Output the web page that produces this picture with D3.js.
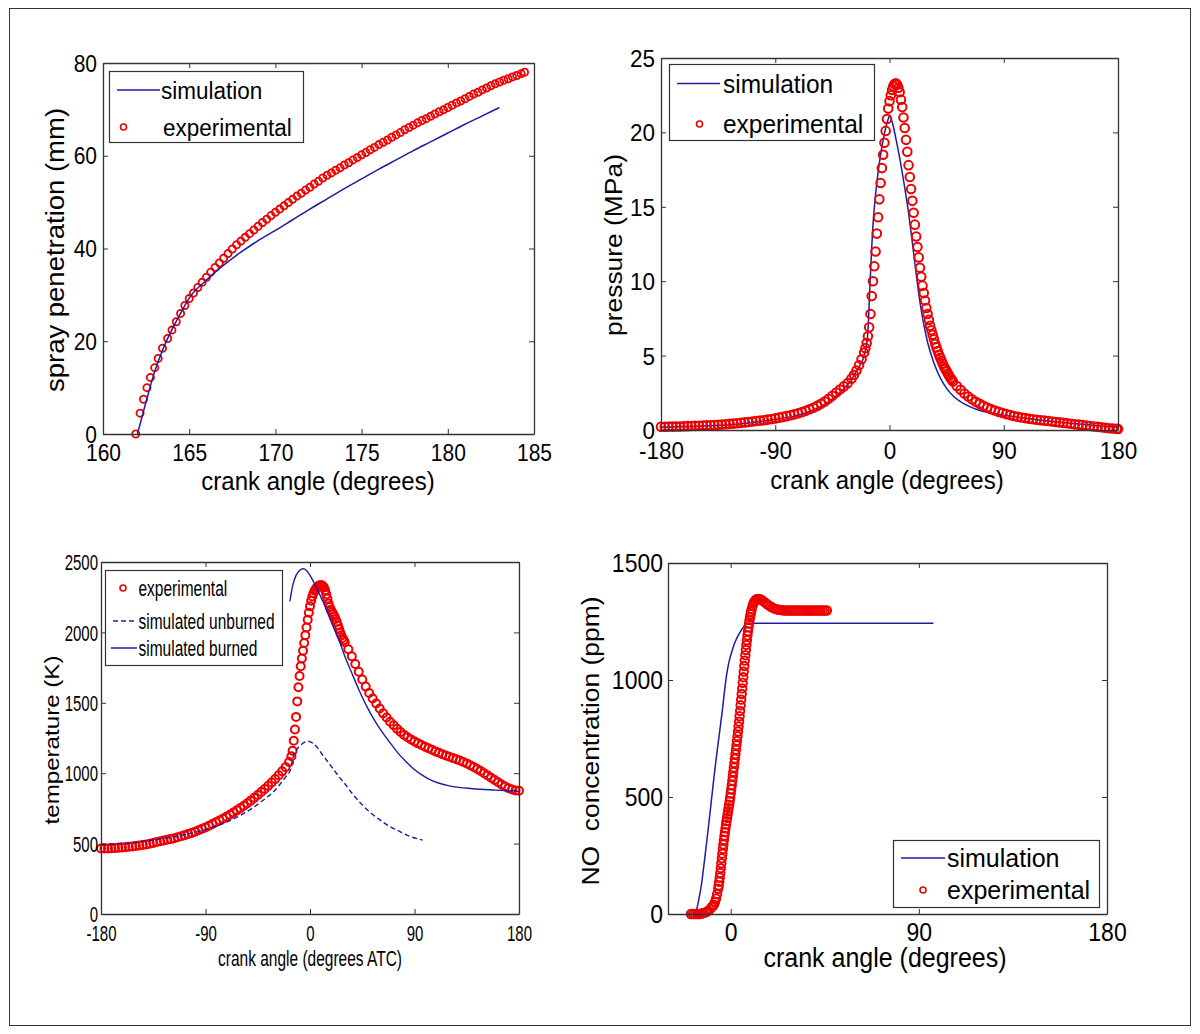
<!DOCTYPE html>
<html>
<head>
<meta charset="utf-8">
<script src="https://cdn.jsdelivr.net/npm/d3@7"></script>
<style>
  html, body { margin: 0; padding: 0; background: #fff; }
  svg { display: block; }
</style>
</head>
<body>
<svg id="fig" width="1200" height="1034"></svg>
<script>
// ---------------- DATA ----------------
// Panel 1: spray penetration (mm) vs crank angle (deg)
const sprayXTicks = [160, 165, 170, 175, 180, 185];
const sprayYTicks = [0, 20, 40, 60, 80];
const spraySim = [[162,0],[162.5,7],[163,13.5],[163.5,18.5],[164,22.5],[164.5,26.0],[165,29.3],[166,33.2],[167,36.4],[168,39.2],[169,41.7],[170,43.9],[171,46.2],[172,48.5],[173,50.7],[174,52.9],[175,55.0],[176,57.1],[177,59.1],[178,61.1],[179,63.0],[180,64.9],[181,66.8],[182,68.6],[183,70.4]];
const sprayExp = [[161.9,0],[162.15,4.5],[162.35,7.5],[162.55,10],[162.75,12.2],[163.0,14.3],[163.2,16.3],[163.45,18.5],
 [163.75,20.6],[164,22.4],[164.25,24.2],[164.5,26.0],[164.75,27.7],[165,29.2],[165.25,30.4],[165.5,31.6],[165.75,32.7],[166,33.8],[166.25,34.9],[166.5,35.9],[166.75,36.9],[167,37.9],[167.25,38.9],[167.5,39.9],[167.75,40.8],[168,41.6],[168.25,42.4],[168.5,43.2],[168.75,44.0],[169,44.8],[169.25,45.6],[169.5,46.3],[169.75,47.1],[170,47.8],[170.25,48.5],[170.5,49.2],[170.75,49.9],[171,50.6],[171.25,51.3],[171.5,51.9],[171.75,52.6],[172,53.2],[172.25,53.9],[172.5,54.5],[172.75,55.2],[173,55.8],[173.25,56.3],[173.5,56.9],[173.75,57.4],[174,58.0],[174.25,58.5],[174.5,59.1],[174.75,59.6],[175,60.2],[175.25,60.7],[175.5,61.3],[175.75,61.8],[176,62.4],[176.25,62.9],[176.5,63.4],[176.75,64.0],[177,64.5],[177.25,65.0],[177.5,65.6],[177.75,66.1],[178,66.6],[178.25,67.1],[178.5,67.6],[178.75,68.0],[179,68.5],[179.25,69.0],[179.5,69.5],[179.75,69.9],[180,70.4],[180.25,70.9],[180.5,71.4],[180.75,71.8],[181,72.3],[181.25,72.8],[181.5,73.3],[181.75,73.7],[182,74.2],[182.25,74.6],[182.5,75.1],[182.75,75.5],[183,75.9],[183.25,76.3],[183.5,76.6],[183.75,77.0],[184,77.3],[184.25,77.7],[184.45,78.0]];

// Panel 2: pressure (MPa)
const presXTicks = [-180, -90, 0, 90, 180];
const presYTicks = [0, 5, 10, 15, 20, 25];
const presSim = [[-180,0.18],[-150,0.25],[-120,0.38],[-90,0.7],[-70,1.05],[-60,1.35],[-50,1.75],[-40,2.4],[-30,3.4],[-25,4.1],[-20,5.0],[-18,5.8],[-17,6.6],[-16,8.5],[-15,10.5],[-14,12.3],[-13,13.8],[-11,15.8],[-9,17.3],[-7,18.5],[-5,19.5],[-3,20.3],[-1,20.9],[0,21.1],[1,21.0],[3,20.4],[5,19.6],[8,18.3],[11,16.8],[15,14.6],[18,12.6],[21,10.5],[24,8.6],[27,7.1],[30,5.9],[35,4.5],[40,3.5],[45,2.8],[50,2.3],[60,1.7],[70,1.35],[80,1.15],[90,1.0],[110,0.75],[130,0.55],[150,0.4],[170,0.25],[180,0.2]];
const presExp = [[-180,0.22],[-177,0.22],[-174,0.23],[-171,0.23],[-168,0.24],[-165,0.24],[-162,0.25],[-159,0.26],[-156,0.27],[-153,0.28],[-150,0.29],[-147,0.3],[-144,0.31],[-141,0.32],[-138,0.34],[-135,0.35],[-132,0.37],[-129,0.39],[-126,0.41],[-123,0.43],[-120,0.45],[-117,0.48],[-114,0.51],[-111,0.54],[-108,0.57],[-105,0.6],[-102,0.63],[-99,0.66],[-96,0.7],[-93,0.74],[-90,0.78],[-87,0.83],[-84,0.88],[-81,0.93],[-78,0.99],[-75,1.05],[-72,1.12],[-69,1.2],[-66,1.29],[-63,1.39],[-60,1.5],[-57,1.62],[-54,1.76],[-51,1.92],[-48,2.1],[-45,2.3],[-42,2.52],[-39,2.72],[-36,2.93],[-33,3.15],[-30,3.45],[-28,3.7],[-26,4.0],[-24,4.35],[-22,4.75],[-20,5.2],[-19,5.5],[-18,5.85],[-17,6.3],[-16,6.9],[-15,7.8],[-14,9.0],[-13,10.0],[-12,11.0],[-11,12.0],[-10,13.2],[-9,14.3],[-8,15.5],[-7,16.6],[-6,17.6],[-5,18.5],[-4,19.3],[-3,20.1],[-2,20.9],[-1,21.6],[0,22.1],[1,22.5],[2,22.85],[3,23.1],[4,23.25],[5,23.3],[6,23.2],[7,23.0],[8,22.7],[9,22.2],[10,21.7],[11,21.0],[12,20.3],[13,19.5],[14,18.7],[15,17.8],[16,17.0],[17,16.2],[18,15.4],[19,14.6],[20,13.8],[21,13.0],[22,12.3],[23,11.6],[24,10.9],[25,10.3],[26,9.7],[27,9.2],[28,8.7],[29,8.2],[30,7.8],[31,7.4],[32,7.0],[33,6.7],[34,6.4],[35,6.1],[36,5.8],[37,5.55],[38,5.3],[39,5.05],[40,4.85],[41,4.65],[42,4.45],[43,4.25],[44,4.1],[45,3.95],[46,3.8],[47,3.65],[48,3.5],[49,3.38],[50,3.26],[53,2.95],[56,2.7],[59,2.45],[62,2.25],[65,2.07],[68,1.9],[71,1.76],[74,1.63],[77,1.51],[80,1.4],[83,1.31],[86,1.22],[89,1.14],[92,1.07],[95,1.0],[98,0.94],[101,0.89],[104,0.84],[107,0.8],[110,0.76],[113,0.72],[116,0.69],[119,0.66],[122,0.63],[125,0.6],[128,0.57],[131,0.54],[134,0.51],[137,0.48],[140,0.45],[143,0.42],[146,0.39],[149,0.36],[152,0.33],[155,0.3],[158,0.27],[161,0.24],[164,0.21],[167,0.18],[170,0.15],[173,0.12],[176,0.1],[179,0.08],[180,0.07]];

// Panel 3: temperature (K)
const tempXTicks = [-180, -90, 0, 90, 180];
const tempYTicks = [0, 500, 1000, 1500, 2000, 2500];
const tempExp = [[-180,465],[-177,465],[-174,466],[-171,467],[-168,468],[-165,470],[-162,472],[-159,474],[-156,477],[-153,480],[-150,483],[-147,487],[-144,490],[-141,494],[-138,499],[-135,505],[-132,511],[-129,517],[-126,522],[-123,527],[-120,532],[-117,538],[-114,545],[-111,552],[-108,560],[-105,568],[-102,576],[-99,585],[-96,595],[-93,605],[-90,615],[-87,627],[-84,639],[-81,651],[-78,664],[-75,677],[-72,691],[-69,705],[-66,720],[-63,736],[-60,752],[-57,769],[-54,787],[-51,805],[-48,825],[-45,845],[-42,866],[-39,888],[-36,910],[-33,934],[-30,958],[-27,985],[-24,1013],[-21,1043],[-18,1080],[-16,1120],[-15,1160],[-14,1230],[-13,1310],[-12,1400],[-11,1510],[-10,1610],[-9,1690],[-8,1760],[-7,1815],[-6,1870],[-5,1925],[-4,1980],[-3,2035],[-2,2090],[-1,2140],[0,2185],[1,2225],[2,2255],[3,2278],[4,2296],[5,2310],[6,2320],[7,2328],[8,2333],[9,2335],[10,2334],[11,2330],[12,2320],[13,2300],[14,2270],[15,2240],[16,2205],[17,2180],[18,2160],[19,2145],[20,2130],[21,2115],[22,2095],[23,2075],[24,2050],[25,2025],[26,2000],[27,1980],[28,1960],[29,1945],[30,1930],[33,1880],[36,1830],[39,1775],[42,1720],[45,1665],[48,1615],[51,1570],[54,1530],[57,1495],[60,1460],[63,1425],[66,1395],[69,1365],[72,1340],[75,1315],[78,1292],[81,1272],[84,1255],[87,1240],[90,1225],[93,1212],[96,1200],[99,1188],[102,1177],[105,1166],[108,1155],[111,1145],[114,1135],[117,1126],[120,1117],[123,1108],[126,1099],[129,1090],[132,1080],[135,1069],[138,1057],[141,1044],[144,1030],[147,1015],[150,1000],[153,984],[156,968],[159,952],[162,936],[165,920],[168,906],[171,893],[174,884],[177,878],[180,875]];
const tempUnburned = [[-180,495],[-150,510],[-120,545],[-90,600],[-70,660],[-60,700],[-50,750],[-40,810],[-30,880],[-25,930],[-20,985],[-17,1020],[-15,1100],[-12,1160],[-8,1200],[-4,1222],[-1,1225],[2,1215],[6,1185],[10,1140],[15,1085],[20,1030],[25,975],[30,925],[35,870],[40,820],[45,775],[50,735],[55,700],[60,670],[65,640],[70,615],[75,595],[80,575],[85,555],[90,540],[97,525]];
const tempBurned = [[-17.3,2220],[-15,2330],[-12,2405],[-9,2440],[-6,2452],[-3,2440],[0,2405],[3,2360],[6,2310],[10,2240],[13,2186],[17,2100],[20,2040],[23,1985],[27,1900],[30,1830],[36,1711],[42,1595],[49,1473],[56,1370],[63,1283],[70,1205],[76,1141],[83,1080],[89,1032],[96,990],[102,960],[110,932],[120,910],[140,890],[160,880],[180,872]];

// Panel 4: NO concentration (ppm)
const noXTicks = [0, 90, 180];
const noYTicks = [0, 500, 1000, 1500];
const noSim = [[-17,0],[-16,30],[-15,75],[-14,125],[-13,195],[-12,270],[-11,345],[-10,425],[-9,505],[-8,585],[-7,660],[-6,730],[-5,800],[-4,870],[-3,950],[-2,1020],[-1,1070],[0,1105],[1,1135],[2,1160],[3,1180],[4,1197],[5,1212],[6,1225],[7,1235],[8,1241],[9,1243],[97,1243]];
const noExp = [[-19,0],[-18,0],[-17,0],[-16,0],[-15,0],[-14,2],[-13,4],[-12,7],[-11,12],[-10,20],[-9,30],[-8.5,35],[-8,40],[-7.5,52],[-7,66],[-6.5,85],[-6,108],[-5.75,122],[-5.5,138],[-5.25,156],[-5,175],[-4.75,196],[-4.5,217],[-4.25,238],[-4,258],[-3.75,278],[-3.5,297],[-3.25,316],[-3,334],[-2.75,350],[-2.5,366],[-2.25,382],[-2,397],[-1.75,411],[-1.5,425],[-1.25,439],[-1,453],[-0.75,467],[-0.5,482],[-0.25,498],[0,515],[0.25,533],[0.5,551],[0.75,569],[1,588],[1.25,607],[1.5,626],[1.75,645],[2,664],[2.25,683],[2.5,702],[2.75,721],[3,740],[3.25,760],[3.5,780],[3.75,801],[4,822],[4.25,845],[4.5,868],[4.75,892],[5,916],[5.25,940],[5.5,964],[5.75,988],[6,1012],[6.25,1036],[6.5,1060],[6.75,1083],[7,1106],[7.25,1128],[7.5,1150],[7.75,1170],[8,1190],[8.25,1208],[8.5,1225],[8.75,1241],[9,1256],[9.25,1269],[9.5,1281],[9.75,1292],[10,1302],[10.5,1318],[11,1330],[11.5,1338],[12,1343],[12.5,1345],[13,1346],[13.5,1346],[14,1345],[14.5,1343],[15,1340],[16,1334],[17,1327],[18,1320],[19,1314],[20,1309],[21,1305],[22,1302],[23,1300],[24,1299],[25,1298],[26,1297],[27,1297],[28,1297],[29,1297],[30,1297],[31,1297],[32,1297],[33,1297],[34,1297],[35,1297],[36,1297],[37,1297],[38,1297],[39,1297],[40,1297],[41,1297],[42,1297],[43,1297],[44,1297],[45,1297],[46,1297]];

// ---------------- DRAWING ----------------
const FONT = '"Liberation Sans", Arial, Helvetica, sans-serif';
const BLUE = '#1c1ca6';
const RED = '#ee0000';
const svg = d3.select('#fig');

svg.append('rect').attr('x', 9.5).attr('y', 8.5).attr('width', 1181).attr('height', 1017)
  .attr('fill', 'none').attr('stroke', '#333').attr('stroke-width', 1);

function txt(g, str, x, y, o) {
  return g.append('text')
    .attr('transform', `translate(${x},${y}) scale(1,${o.sy || 1})${o.rot ? ' rotate(-90)' : ''}`)
    .attr('text-anchor', o.anchor || 'start')
    .attr('dy', '0.35em')
    .style('font-family', FONT)
    .style('font-size', o.size + 'px')
    .style('white-space', 'pre')
    .attr('fill', '#000')
    .text(str);
}

function makePanel(p, xDom, yDom, xTicks, yTicks, st) {
  const x = d3.scaleLinear().domain(xDom).range([p.l, p.r]);
  const y = d3.scaleLinear().domain(yDom).range([p.b, p.t]);
  const g = svg.append('g');
  const plot = g.append('g');
  const axes = g.append('g');
  const fmt = d => String(d);
  const gb = axes.append('g').attr('transform', `translate(0,${p.b})`)
    .call(d3.axisBottom(x).tickValues(xTicks).tickFormat(fmt).tickSizeInner(-5).tickSizeOuter(0));
  const gt = axes.append('g').attr('transform', `translate(0,${p.t})`)
    .call(d3.axisTop(x).tickValues(xTicks).tickFormat('').tickSizeInner(-5).tickSizeOuter(0));
  const gl = axes.append('g').attr('transform', `translate(${p.l},0)`)
    .call(d3.axisLeft(y).tickValues(yTicks).tickFormat(fmt).tickSizeInner(-5).tickSizeOuter(0));
  const gr = axes.append('g').attr('transform', `translate(${p.r},0)`)
    .call(d3.axisRight(y).tickValues(yTicks).tickFormat('').tickSizeInner(-5).tickSizeOuter(0));
  [gb, gt, gl, gr].forEach(a => {
    a.select('.domain').attr('stroke', '#333').attr('stroke-width', 1.3);
    a.selectAll('.tick line').attr('stroke', '#333').attr('stroke-width', 1);
  });
  gb.selectAll('text').attr('y', null).attr('dy', '0.35em')
    .attr('transform', `translate(0,${st.xOff}) scale(1,${st.sy})`)
    .style('font-family', FONT).style('font-size', st.tick + 'px').attr('fill', '#000');
  gl.selectAll('text').attr('x', null).attr('dy', '0.35em')
    .attr('transform', `translate(${-st.yOff},0) scale(1,${st.sy})`)
    .style('font-family', FONT).style('font-size', st.tick + 'px').attr('fill', '#000');
  return { x, y, g, plot, axes };
}

function drawLine(P, data, opts) {
  P.plot.append('path').datum(data)
    .attr('fill', 'none').attr('stroke', BLUE).attr('stroke-width', opts.w || 1.3)
    .attr('stroke-dasharray', opts.dash || null)
    .attr('d', d3.line().x(d => P.x(d[0])).y(d => P.y(d[1])).curve(d3.curveMonotoneX));
}
function drawCircles(P, data, r, sw) {
  P.plot.append('g').selectAll('circle').data(data).join('circle')
    .attr('cx', d => P.x(d[0])).attr('cy', d => P.y(d[1])).attr('r', r)
    .attr('fill', 'none').attr('stroke', RED).attr('stroke-width', sw || 1.7);
}
function legend(P, box, items, st) {
  const lg = P.g.append('g');
  lg.append('rect').attr('x', box.x).attr('y', box.y).attr('width', box.w).attr('height', box.h)
    .attr('fill', '#fff').attr('stroke', '#333').attr('stroke-width', 1.2);
  items.forEach(it => {
    if (it.type === 'line') {
      lg.append('line').attr('x1', it.x1).attr('x2', it.x2).attr('y1', it.y).attr('y2', it.y)
        .attr('stroke', BLUE).attr('stroke-width', 1.5).attr('stroke-dasharray', it.dash || null);
    } else {
      lg.append('circle').attr('cx', it.cx).attr('cy', it.y).attr('r', 3)
        .attr('fill', 'none').attr('stroke', RED).attr('stroke-width', 1.6);
    }
    txt(lg, it.label, it.tx, it.y, { size: st.size, sy: st.sy });
  });
}

// ---- Panel 1 ----
const P1 = makePanel({ l: 103, r: 534, t: 63, b: 434 }, [160, 185], [0, 80], sprayXTicks, sprayYTicks,
  { tick: 21, sy: 1.12, xOff: 19, yOff: 6 });
drawCircles(P1, sprayExp, 3.6, 1.8);
drawLine(P1, spraySim, { w: 1.5 });
legend(P1, { x: 109.5, y: 71.5, w: 194, h: 71 }, [
  { type: 'line', x1: 117, x2: 160, y: 90, tx: 161, label: 'simulation' },
  { type: 'circle', cx: 123.5, y: 127, tx: 163, label: 'experimental' }
], { size: 22.5, sy: 1.1 });
txt(P1.g, 'crank angle (degrees)', 318, 481, { size: 24, sy: 1.1, anchor: 'middle' });
txt(P1.g, 'spray penetration (mm)', 55, 250, { size: 25, sy: 1.1, anchor: 'middle', rot: true });

// ---- Panel 2 ----
const P2 = makePanel({ l: 661, r: 1118, t: 58, b: 430 }, [-180, 180], [0, 25], presXTicks, presYTicks,
  { tick: 22.5, sy: 1.08, xOff: 20, yOff: 6 });
drawLine(P2, presSim, { w: 1.5 });
drawCircles(P2, presExp, 4.3, 2);
legend(P2, { x: 669.5, y: 64.5, w: 205, h: 76 }, [
  { type: 'line', x1: 677, x2: 720, y: 83.5, tx: 723, label: 'simulation' },
  { type: 'circle', cx: 699.5, y: 124, tx: 723, label: 'experimental' }
], { size: 24.5, sy: 1.08 });
txt(P2.g, 'crank angle (degrees)', 887, 480, { size: 24, sy: 1.1, anchor: 'middle' });
txt(P2.g, 'pressure (MPa)', 614, 245, { size: 24, sy: 1.1, anchor: 'middle', rot: true });

// ---- Panel 3 ----
const P3 = makePanel({ l: 101, r: 519, t: 562, b: 914 }, [-180, 180], [0, 2500], tempXTicks, tempYTicks,
  { tick: 15, sy: 1.45, xOff: 19, yOff: 3 });
drawCircles(P3, tempExp, 4, 2);
drawLine(P3, tempUnburned, { w: 1.4, dash: '5,3' });
drawLine(P3, tempBurned, { w: 1.4 });
legend(P3, { x: 105.5, y: 570.5, w: 177, h: 95 }, [
  { type: 'circle', cx: 123, y: 588, tx: 138.5, label: 'experimental' },
  { type: 'line', x1: 113, x2: 136, y: 621, tx: 138.5, label: 'simulated unburned', dash: '5,3' },
  { type: 'line', x1: 111, x2: 137, y: 648, tx: 138.5, label: 'simulated burned' }
], { size: 15.5, sy: 1.45 });
txt(P3.g, 'crank angle (degrees ATC)', 310, 958, { size: 15.5, sy: 1.45, anchor: 'middle' });
txt(P3.g, 'temperature (K)', 52, 740, { size: 21, sy: 1.15, anchor: 'middle', rot: true });

// ---- Panel 4 ----
const P4 = makePanel({ l: 668, r: 1107, t: 563, b: 914 }, [-30, 180], [0, 1500], noXTicks, noYTicks,
  { tick: 23, sy: 1.1, xOff: 18, yOff: 5 });
drawLine(P4, noSim, { w: 1.5 });
drawCircles(P4, noExp, 4.2, 2);
legend(P4, { x: 893.5, y: 840.5, w: 206, h: 67 }, [
  { type: 'line', x1: 901, x2: 945, y: 858, tx: 947, label: 'simulation' },
  { type: 'circle', cx: 923, y: 890, tx: 947, label: 'experimental' }
], { size: 25, sy: 1.05 });
txt(P4.g, 'crank angle (degrees)', 885, 958, { size: 25, sy: 1.08, anchor: 'middle' });
txt(P4.g, 'NO  concentration (ppm)', 591, 741, { size: 24, sy: 1.1, anchor: 'middle', rot: true });
</script>
</body>
</html>
